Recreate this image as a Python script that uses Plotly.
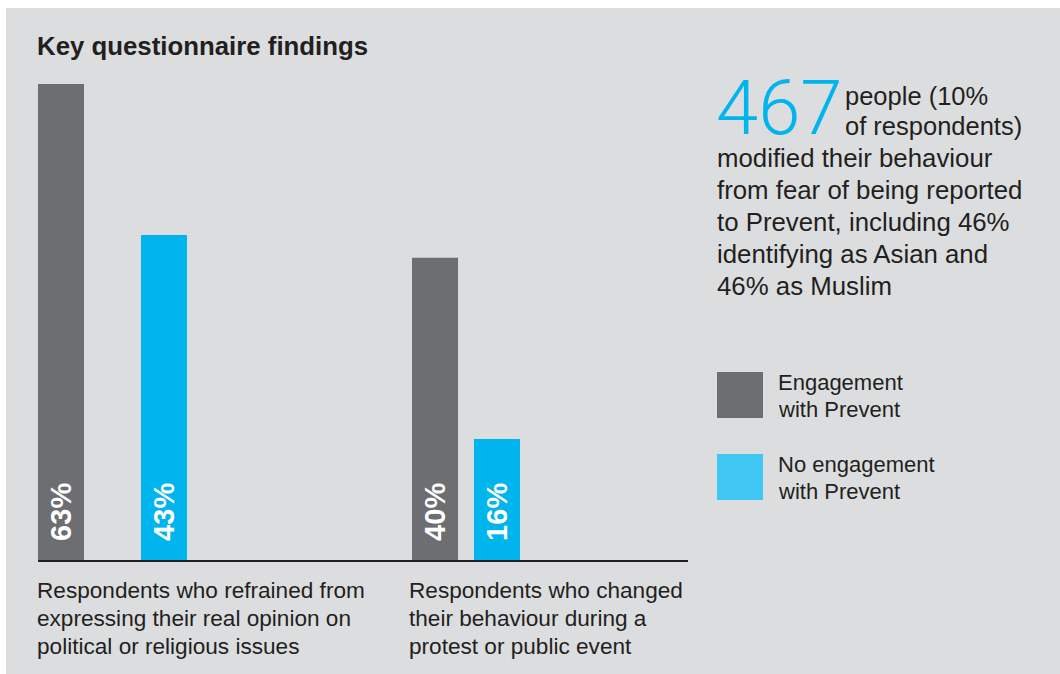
import plotly.graph_objects as go

# ---------------- data ----------------
categories = ["refrained", "changed"]
category_labels = [
    ["Respondents who refrained from", "expressing their real opinion on", "political or religious issues"],
    ["Respondents who changed", "their behaviour during a", "protest or public event"],
]
series_names = ["Engagement with Prevent", "No engagement with Prevent"]
legend_lines = [["Engagement", "with Prevent"], ["No engagement", "with Prevent"]]
engagement = [63, 40]
no_engagement = [43, 16]
title_text = "Key questionnaire findings"
big_number = "467"
side_lines_top = ["people (10%", "of respondents)"]
side_lines = ["modified their behaviour", "from fear of being reported",
              "to Prevent, including 46%", "identifying as Asian and", "46% as Muslim"]

# ---------------- style ----------------
W, H = 1060, 674
FONT = "Liberation Sans, Arial, sans-serif"
TXT = "#231f20"
GREY = "#6d6e72"
BLUE = "#00b5ee"
BLUE_LEG = "#41c7f3"
PANEL = "#dcdddf"

def px(x):
    return x / W

def py(y):
    return 1 - y / H

fig = go.Figure()

bar_w = 46 / 325.0
fig.add_trace(go.Bar(
    x=categories, y=engagement, name=series_names[0],
    marker=dict(color=GREY, line=dict(width=0)),
    width=bar_w, offset=[-0.5, -0.3492],
    texttemplate="\u00a0\u00a0%{y}%", textposition="inside",
    insidetextanchor="start", textangle=-90,
    textfont=dict(family=FONT, size=29, color="white", weight="bold"),
    hoverinfo="skip",
))
fig.add_trace(go.Bar(
    x=categories, y=no_engagement, name=series_names[1],
    marker=dict(color=BLUE, line=dict(width=0)),
    width=bar_w, offset=[-0.1831, -0.1585],
    texttemplate="\u00a0\u00a0%{y}%", textposition="inside",
    insidetextanchor="start", textangle=-90,
    textfont=dict(family=FONT, size=29, color="white", weight="bold"),
    hoverinfo="skip",
))

annotations = []

def add_line(text, x, baseline, size, color=TXT, weight="normal", family=FONT, **kw):
    annotations.append(dict(
        text=text, xref="paper", yref="paper", x=px(x), y=py(baseline - 0.35 * size),
        xanchor="left", yanchor="middle", showarrow=False, borderpad=0,
        font=dict(family=family, size=size, color=color, weight=weight), **kw,
    ))

# title
add_line(title_text, 36, 55, 25.8, weight="bold")

# category labels
for lines, x0 in zip(category_labels, [36, 408]):
    for i, t in enumerate(lines):
        add_line(t, x0, 598 + 28 * i, 22.6)

# big number (box kept tight to the digits) + side paragraph
big_size = 76
annotations.append(dict(
    text=big_number, xref="paper", yref="paper", x=px(715), y=py(135 - 0.36 * big_size),
    xanchor="left", yanchor="middle", showarrow=False, borderpad=0,
    height=62, valign="middle",
    font=dict(family="Roboto, Liberation Sans, sans-serif", size=big_size, color=BLUE, weight=300),
))
for i, t in enumerate(side_lines_top):
    add_line(t, 844, 105 + 30 * i, 25.5)
for i, t in enumerate(side_lines):
    add_line(t, 716, 167 + 32 * i, 25.8)

# legend
shapes = [dict(type="rect", xref="paper", yref="paper", x0=px(6), x1=1, y0=0, y1=py(8),
               fillcolor=PANEL, line=dict(width=0), layer="below")]
for (lines, col, top) in zip(legend_lines, [GREY, BLUE_LEG], [372, 454]):
    shapes.append(dict(type="rect", xref="paper", yref="paper", x0=px(717), x1=px(763),
                       y0=py(top + 46), y1=py(top), fillcolor=col, line=dict(width=0)))
    for i, t in enumerate(lines):
        add_line(t, 777, top + 18 + 27 * i, 22)

fig.update_layout(
    width=W, height=H, margin=dict(l=0, r=0, t=0, b=0),
    paper_bgcolor="white", plot_bgcolor="rgba(0,0,0,0)",
    showlegend=False, barmode="overlay",
    xaxis=dict(domain=[px(38), px(688)], range=[-0.5, 1.5], type="category",
               showticklabels=False, ticks="", showgrid=False, zeroline=False,
               showline=True, linecolor=TXT, linewidth=1.5, fixedrange=True),
    yaxis=dict(domain=[py(560), py(84)], range=[0, max(engagement + no_engagement)],
               visible=False, fixedrange=True),
    annotations=annotations, shapes=shapes,
    font=dict(family=FONT, color=TXT),
)

fig.write_html("out.html")
